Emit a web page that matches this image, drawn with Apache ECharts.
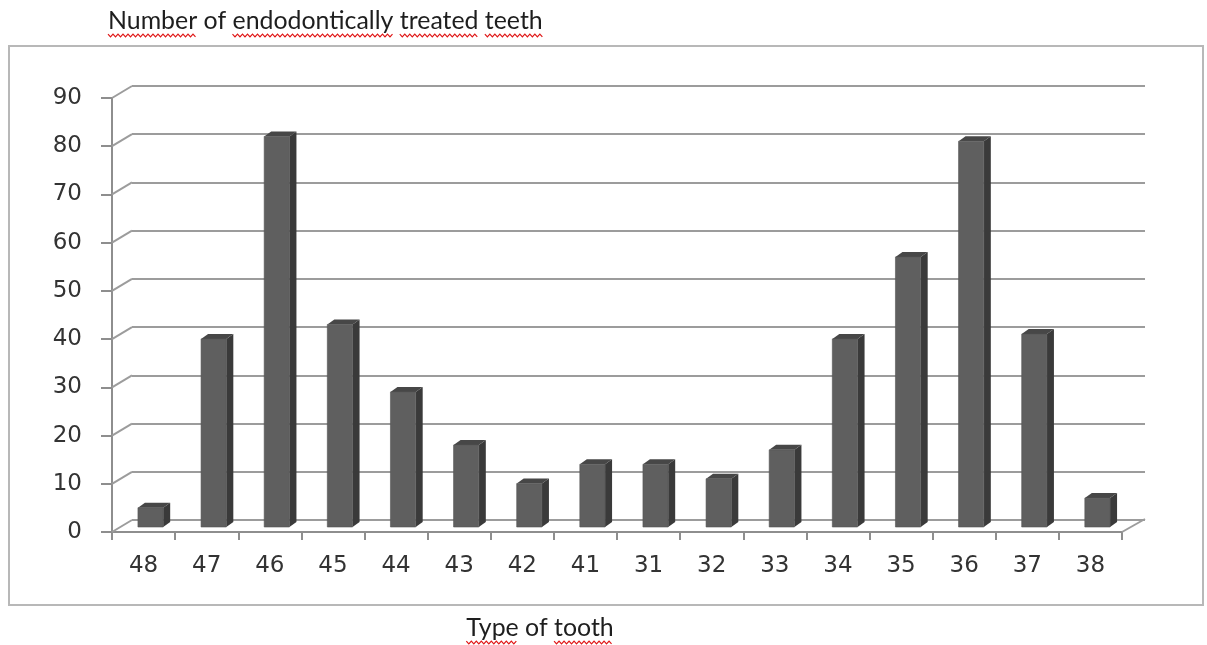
<!DOCTYPE html>
<html>
<head>
<meta charset="utf-8">
<script src="https://cdn.jsdelivr.net/npm/echarts@6/dist/echarts.min.js"></script>
<style>
html,body{margin:0;padding:0;background:#fff;}
#chart{width:1207px;height:645px;}
</style>
</head>
<body>
<div id="chart"></div>
<script>
// ---- data ----
const categories = ['48','47','46','45','44','43','42','41','31','32','33','34','35','36','37','38'];
const values = [4, 39, 81, 42, 28, 17, 9, 13, 13, 10, 16, 39, 56, 80, 40, 6];
const yTickValues = [0, 10, 20, 30, 40, 50, 60, 70, 80, 90];
const titleText = 'Number of endodontically treated teeth';
const xTitleText = 'Type of tooth';
const squiggleTitleWords = ['Number', 'endodontically', 'treated', 'teeth'];
const squiggleXWords = ['Type', 'tooth'];

// ---- style constants ----
const gridColor = '#9c9c9c';
const axisColor = '#8e8e8e';
const labelColor = '#333333';
const depthDX = 20, depthDY = -12;    // back wall offset
const barDX = 7, barDY = -5;          // bar position inside the depth
const sideDX = 7, sideDY = -5;        // bar depth

const chart = echarts.init(document.getElementById('chart'), null, {renderer: 'canvas'});

// measure text to place the spell-check squiggles
const mctx = document.createElement('canvas').getContext('2d');
function textWidth(str, font) { mctx.font = font; return mctx.measureText(str).width; }

const titleFamily = 'Lato';
let titleSize = 20;
titleSize = titleSize * 435 / textWidth(titleText, titleSize + 'px ' + titleFamily);
const titleFont = titleSize + 'px ' + titleFamily;
let xTitleSize = titleSize;
const xTitleFont = xTitleSize + 'px ' + titleFamily;

function squiggle(x0, x1, y) {
  const pts = [];
  let up = true;
  for (let x = x0; x <= x1; x += 2.5) { pts.push([x, y + (up ? -1.4 : 1.4)]); up = !up; }
  return {type: 'polyline', shape: {points: pts}, style: {stroke: '#e01818', lineWidth: 1.2, fill: null}, silent: true};
}
function wordSquiggles(text, words, font, left, y) {
  const out = [];
  let from = 0;
  words.forEach(w => {
    const i = text.indexOf(w, from);
    from = i + w.length;
    const x0 = left + textWidth(text.slice(0, i), font);
    const x1 = left + textWidth(text.slice(0, i + w.length), font);
    out.push(squiggle(x0, x1, y));
  });
  return out;
}

const titleLeft = 108, titleY = 21;
const xTitleCenter = 540, xTitleY = 628;
const xTitleLeft = xTitleCenter - textWidth(xTitleText, xTitleFont) / 2;

const graphics = [
  {type: 'rect', shape: {x: 9, y: 46, width: 1194, height: 559}, style: {fill: null, stroke: '#b8b8b8', lineWidth: 2}, silent: true, z: -10},
  {type: 'text', x: titleLeft, y: titleY, style: {text: titleText, font: titleFont, fill: '#1e1e1e', verticalAlign: 'middle', align: 'left'}},
  {type: 'text', x: xTitleLeft, y: xTitleY, style: {text: xTitleText, font: xTitleFont, fill: '#1e1e1e', verticalAlign: 'middle', align: 'left'}}
].concat(wordSquiggles(titleText, squiggleTitleWords, titleFont, titleLeft, titleY + titleSize * 0.58))
 .concat(wordSquiggles(xTitleText, squiggleXWords, xTitleFont, xTitleLeft, xTitleY + xTitleSize * 0.58));

const option = {
  backgroundColor: '#fff',
  animation: false,
  graphic: graphics,
  grid: [
    {left: 112, top: 98, width: 1010, height: 434},
    {left: 112 + depthDX, top: 98 + depthDY, width: 1013, height: 434}
  ],
  xAxis: [
    {
      type: 'category', gridIndex: 0, data: categories, boundaryGap: true,
      axisLine: {show: true, lineStyle: {color: axisColor, width: 2}},
      axisTick: {show: true, length: 8, lineStyle: {color: axisColor, width: 2}},
      axisLabel: {interval: 0, margin: 23, fontSize: 23, fontFamily: 'DejaVu Sans', color: labelColor},
      splitLine: {show: false}
    },
    {
      type: 'category', gridIndex: 1, data: categories, show: false
    }
  ],
  yAxis: [
    {
      type: 'value', gridIndex: 0, min: 0, max: 90, interval: 10,
      axisLine: {show: true, lineStyle: {color: axisColor, width: 2}},
      axisTick: {show: true, length: 11, lineStyle: {color: axisColor, width: 2}},
      axisLabel: {margin: 30, fontSize: 23, fontFamily: 'DejaVu Sans', color: labelColor},
      splitLine: {show: false}
    },
    {
      type: 'value', gridIndex: 1, min: 0, max: 90, interval: 10,
      axisLine: {show: false}, axisTick: {show: false}, axisLabel: {show: false},
      splitLine: {show: true, lineStyle: {color: gridColor, width: 2}}
    }
  ],
  series: [
    {
      type: 'custom', xAxisIndex: 1, yAxisIndex: 1, data: [],
      renderItem: function () { return null; }
    },
    {
      // diagonal connectors from the front axis to the back wall
      type: 'custom', xAxisIndex: 0, yAxisIndex: 0, silent: true, z: 1,
      data: yTickValues.map(v => [0, v]),
      renderItem: function (params, api) {
        const cs = params.coordSys;
        const p = api.coord([0, api.value(1)]);
        const children = [{
          type: 'line',
          shape: {x1: cs.x, y1: p[1], x2: cs.x + depthDX, y2: p[1] + depthDY},
          style: {stroke: gridColor, lineWidth: 2}
        }];
        if (api.value(1) === 0) {
          children.push({
            type: 'line',
            shape: {x1: cs.x + cs.width, y1: p[1], x2: cs.x + cs.width + depthDX + 3, y2: p[1] + depthDY - 1},
            style: {stroke: gridColor, lineWidth: 2}
          });
        }
        return {type: 'group', children: children};
      }
    },
    {
      // 3D-looking bars
      type: 'custom', xAxisIndex: 0, yAxisIndex: 0, z: 3,
      data: values.map((v, i) => [i, v]),
      renderItem: function (params, api) {
        const top = api.coord([api.value(0), api.value(1)]);
        const base = api.coord([api.value(0), 0]);
        const w = api.size([1, 0])[0] * 0.4;
        const cx = top[0] + barDX;
        const l = cx - w / 2, r = cx + w / 2;
        const t = top[1] + barDY, b = base[1] + barDY;
        return {
          type: 'group',
          children: [
            {type: 'polygon', shape: {points: [[r, t], [r + sideDX, t + sideDY], [r + sideDX, b + sideDY], [r, b]]},
             style: {fill: '#3a3a3a'}},
            {type: 'polygon', shape: {points: [[l, t], [l + sideDX, t + sideDY], [r + sideDX, t + sideDY], [r, t]]},
             style: {fill: '#474747'}},
            {type: 'rect', shape: {x: l, y: t, width: w, height: b - t},
             style: {fill: '#5f5f5f', stroke: '#555555', lineWidth: 0.6}}
          ]
        };
      }
    }
  ]
};
chart.setOption(option);
</script>
</body>
</html>
